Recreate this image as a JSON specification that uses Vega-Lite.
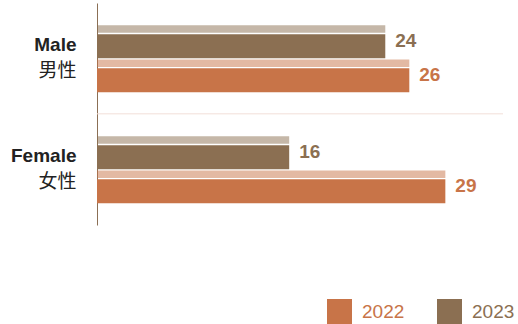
{
  "$schema": "https://vega.github.io/schema/vega-lite/v6.json",
  "autosize": "none",
  "width": 406,
  "height": 222,
  "padding": {"left": 97, "top": 3, "right": 15, "bottom": 99},
  "config": {"view": {"stroke": null}, "font": "Liberation Sans"},
  "data": {"values": [
    {"gender": "Male", "year": "2023", "value": 24},
    {"gender": "Male", "year": "2022", "value": 26},
    {"gender": "Female", "year": "2023", "value": 16},
    {"gender": "Female", "year": "2022", "value": 29}
  ]},
  "resolve": {"axis": {"y": "independent"}},
  "layer": [
    {
      "transform": [{"filter": "datum.gender === 'Male' && datum.year === '2023'"}],
      "mark": {"type": "rule", "color": "#F2DFD8", "strokeWidth": 1},
      "encoding": {
        "y": {"field": "gender", "type": "nominal", "bandPosition": 1.37, "axis": null,
              "scale": {"domain": ["Male", "Female"], "paddingInner": 0.387, "paddingOuter": 0.1935, "align": 0.41}}
      }
    },
    {
      "transform": [{"calculate": "datum.year + ' top'", "as": "slot"}],
      "mark": {"type": "bar", "height": 7.5, "opacity": 0.5},
      "encoding": {
        "y": {"field": "gender", "type": "nominal",
              "scale": {"domain": ["Male", "Female"], "paddingInner": 0.387, "paddingOuter": 0.1935, "align": 0.41},
              "axis": {"orient": "left", "title": null, "labelFont": "Liberation Sans", "labelFontSize": 19, "labelFontWeight": "bold", "labelColor": "#222222", "labelOffset": -10, "labelPadding": 21, "ticks": false, "grid": false, "domainColor": "#8B6F55", "domainWidth": 1}},
        "yOffset": {"field": "slot", "type": "nominal", "sort": null,
              "scale": {"domain": ["2023 top", "2023", "2022 top", "2022"], "paddingInner": 0, "paddingOuter": 0}},
        "x": {"field": "value", "type": "quantitative", "scale": {"domain": [0, 33.8], "nice": false}, "axis": null},
        "color": {"field": "year", "type": "nominal",
              "scale": {"domain": ["2022", "2023"], "range": ["#C87448", "#8B6F52"]},
              "legend": {"orient": "none", "legendX": 230, "legendY": 296, "direction": "horizontal", "title": null,
                         "symbolType": "square", "symbolSize": 625, "symbolStrokeWidth": 0, "symbolOpacity": 1,
                         "labelFont": "Liberation Sans", "labelFontSize": 19, "labelOffset": 10, "columnPadding": 32, "padding": 0,
                         "encode": {"labels": {"update": {"fill": {"signal": "datum.value === '2022' ? '#C87448' : '#8B6F52'"}}}}}}
      }
    },
    {
      "transform": [{"calculate": "datum.year", "as": "slot"}],
      "mark": {"type": "bar", "height": 24},
      "encoding": {
        "y": {"field": "gender", "type": "nominal",
              "scale": {"domain": ["Male", "Female"], "paddingInner": 0.387, "paddingOuter": 0.1935, "align": 0.41},
              "axis": {"orient": "left", "title": null, "labelExpr": "datum.value === 'Male' ? '男性' : '女性'", "labelFont": "Noto Sans CJK SC", "labelFontSize": 19, "labelFontWeight": "normal", "labelColor": "#222222", "labelOffset": 16.5, "labelPadding": 21, "ticks": false, "grid": false, "domain": false}},
        "yOffset": {"field": "slot", "type": "nominal", "sort": null,
              "scale": {"domain": ["2023 top", "2023", "2022 top", "2022"], "paddingInner": 0, "paddingOuter": 0}},
        "x": {"field": "value", "type": "quantitative", "scale": {"domain": [0, 33.8], "nice": false}, "axis": null},
        "color": {"field": "year", "type": "nominal",
              "scale": {"domain": ["2022", "2023"], "range": ["#C87448", "#8B6F52"]},
              "legend": {"orient": "none", "legendX": 230, "legendY": 296, "direction": "horizontal", "title": null,
                         "symbolType": "square", "symbolSize": 625, "symbolStrokeWidth": 0, "symbolOpacity": 1,
                         "labelFont": "Liberation Sans", "labelFontSize": 19, "labelOffset": 10, "columnPadding": 32, "padding": 0,
                         "encode": {"labels": {"update": {"fill": {"signal": "datum.value === '2022' ? '#C87448' : '#8B6F52'"}}}}}}
      }
    },
    {
      "transform": [{"calculate": "datum.year", "as": "slot"}],
      "mark": {"type": "text", "align": "left", "baseline": "middle", "dx": 10, "dy": -5, "fontSize": 19, "fontWeight": "bold", "font": "Liberation Sans"},
      "encoding": {
        "y": {"field": "gender", "type": "nominal", "axis": null,
              "scale": {"domain": ["Male", "Female"], "paddingInner": 0.387, "paddingOuter": 0.1935, "align": 0.41}},
        "yOffset": {"field": "slot", "type": "nominal", "sort": null,
              "scale": {"domain": ["2023 top", "2023", "2022 top", "2022"], "paddingInner": 0, "paddingOuter": 0}},
        "x": {"field": "value", "type": "quantitative", "scale": {"domain": [0, 33.8], "nice": false}, "axis": null},
        "text": {"field": "value", "type": "quantitative"},
        "color": {"field": "year", "type": "nominal",
              "scale": {"domain": ["2022", "2023"], "range": ["#C87448", "#8B6F52"]},
              "legend": {"orient": "none", "legendX": 230, "legendY": 296, "direction": "horizontal", "title": null,
                         "symbolType": "square", "symbolSize": 625, "symbolStrokeWidth": 0, "symbolOpacity": 1,
                         "labelFont": "Liberation Sans", "labelFontSize": 19, "labelOffset": 10, "columnPadding": 32, "padding": 0,
                         "encode": {"labels": {"update": {"fill": {"signal": "datum.value === '2022' ? '#C87448' : '#8B6F52'"}}}}}}
      }
    }
  ]
}
